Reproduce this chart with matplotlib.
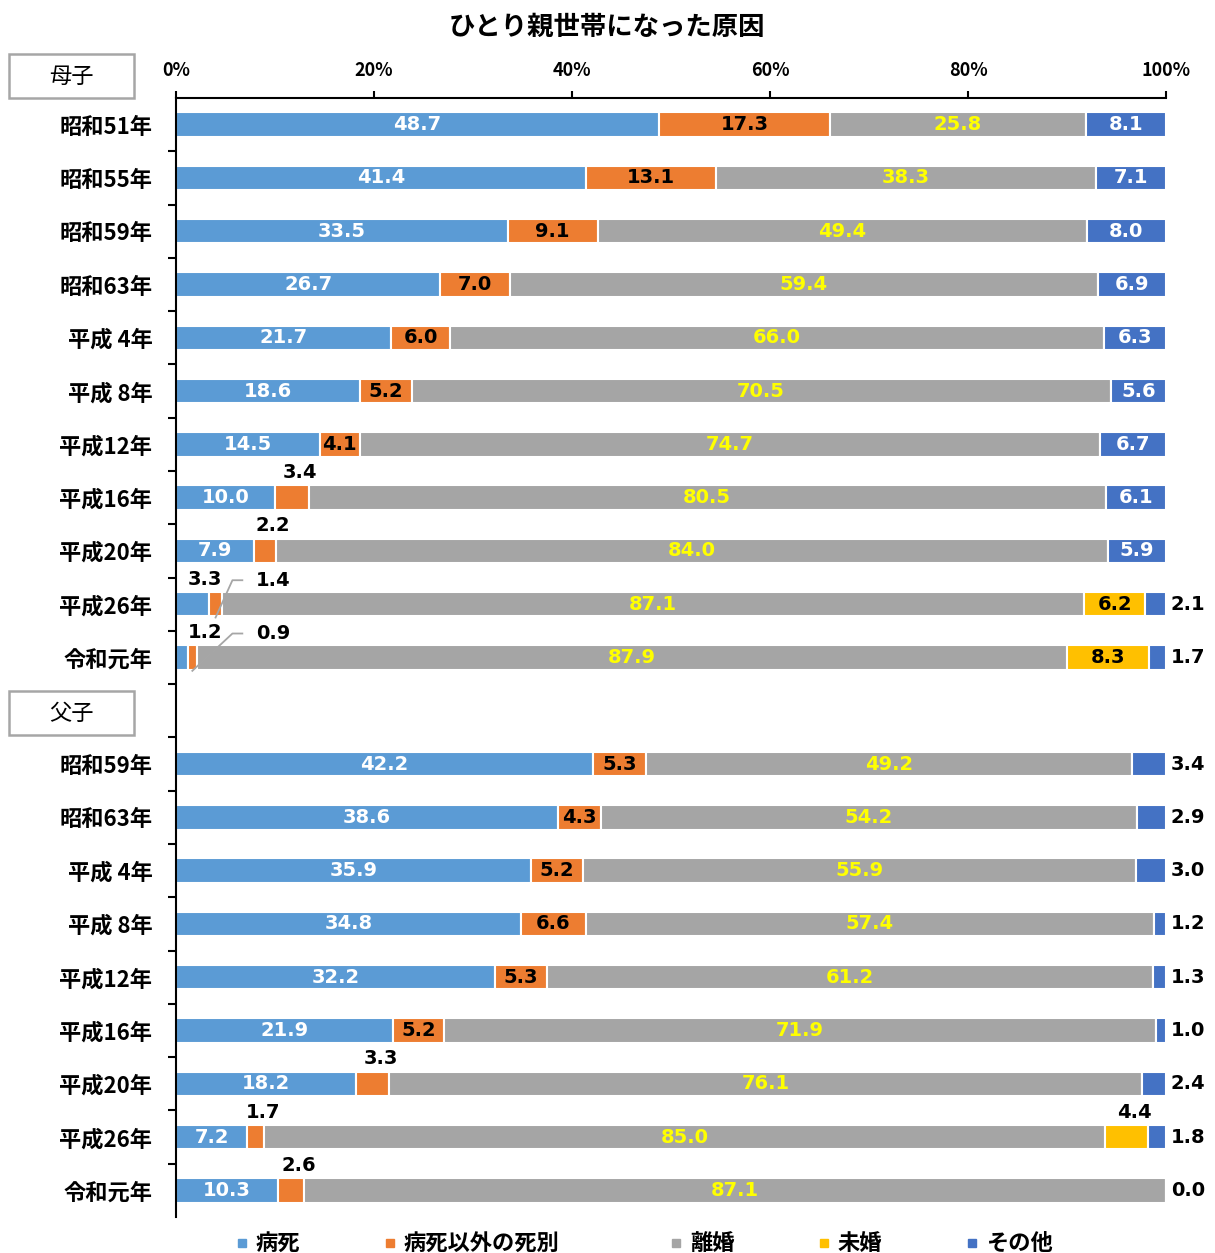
import numpy as np
import matplotlib
matplotlib.use("Agg")
import matplotlib.pyplot as plt
from matplotlib.patches import Rectangle

plt.rcParams['font.family'] = ['Noto Sans CJK JP', 'DejaVu Sans']

# --- data ---
categories = ['病死', '病死以外の死別', '離婚', '未婚', 'その他']
colors = ['#5B9BD5', '#ED7D31', '#A5A5A5', '#FFC000', '#4472C4']
label_colors = ['white', 'black', '#FFFF00', 'black', 'white']

boshi_years = ['昭和51年', '昭和55年', '昭和59年', '昭和63年', '平成 4年', '平成 8年',
               '平成12年', '平成16年', '平成20年', '平成26年', '令和元年']
boshi_byoshi = [48.7, 41.4, 33.5, 26.7, 21.7, 18.6, 14.5, 10.0, 7.9, 3.3, 1.2]
boshi_shibetsu = [17.3, 13.1, 9.1, 7.0, 6.0, 5.2, 4.1, 3.4, 2.2, 1.4, 0.9]
boshi_rikon = [25.8, 38.3, 49.4, 59.4, 66.0, 70.5, 74.7, 80.5, 84.0, 87.1, 87.9]
boshi_mikon = [0, 0, 0, 0, 0, 0, 0, 0, 0, 6.2, 8.3]
boshi_sonota = [8.1, 7.1, 8.0, 6.9, 6.3, 5.6, 6.7, 6.1, 5.9, 2.1, 1.7]

fushi_years = ['昭和59年', '昭和63年', '平成 4年', '平成 8年', '平成12年', '平成16年',
               '平成20年', '平成26年', '令和元年']
fushi_byoshi = [42.2, 38.6, 35.9, 34.8, 32.2, 21.9, 18.2, 7.2, 10.3]
fushi_shibetsu = [5.3, 4.3, 5.2, 6.6, 5.3, 5.2, 3.3, 1.7, 2.6]
fushi_rikon = [49.2, 54.2, 55.9, 57.4, 61.2, 71.9, 76.1, 85.0, 87.1]
fushi_mikon = [0, 0, 0, 0, 0, 0, 0, 4.4, 0]
fushi_sonota = [3.4, 2.9, 3.0, 1.2, 1.3, 1.0, 2.4, 1.8, 0.0]

# --- rows (one empty row between the two groups) ---
n_b = len(boshi_years)
rows = list(range(n_b)) + list(range(n_b + 1, n_b + 1 + len(fushi_years)))
labels = boshi_years + fushi_years
vals = np.array([
    boshi_byoshi + fushi_byoshi,
    boshi_shibetsu + fushi_shibetsu,
    boshi_rikon + fushi_rikon,
    boshi_mikon + fushi_mikon,
    boshi_sonota + fushi_sonota,
], dtype=float)
shares = vals / vals.sum(axis=0) * 100  # 100% stacked

num_font = dict(fontsize=14, fontweight='bold', family=['DejaVu Sans'])

fig = plt.figure(figsize=(12.15, 12.53), dpi=100)
ax = fig.add_axes([176 / 1215, 1 - 1217 / 1253, 990 / 1215, (1217 - 98) / 1253])

lefts = np.zeros(len(rows))
for k, cat in enumerate(categories):
    ax.barh(rows, shares[k], left=lefts, height=0.46, color=colors[k],
            edgecolor='white', linewidth=1.5, zorder=2)

    for i, r in enumerate(rows):
        w = vals[k, i]
        cx = lefts[i] + shares[k, i] / 2
        if w == 0 and k != 4:
            continue
        place = 'in' if w >= 4 else ('right' if k == 4 else 'above')
        if (r, k) in [(9, 1), (10, 1)]:
            place = 'leader'
        if (r, k) == (19, 3):
            place = 'above'
        txt = f'{w:.1f}'
        if place == 'in':
            ax.text(cx, r, txt, ha='center', va='center', color=label_colors[k],
                    zorder=3, **num_font)
        elif place == 'right':
            ax.text(100.5, r, txt, ha='left', va='center', color='black',
                    clip_on=False, **num_font)
        elif place == 'above':
            tx = max(cx + 0.8, 2.9)
            ax.text(tx, r - 0.47, txt, ha='center', va='center', color='black',
                    **num_font)
        else:
            # leader line from the thin segment to its label
            ax.plot([cx, 5.7, 6.7], [r + 0.25, r - 0.45, r - 0.45], color='#A6A6A6',
                    lw=1.3, zorder=4)
            ax.text(9.8, r - 0.45, txt, ha='center', va='center', color='black',
                    **num_font)
    lefts += shares[k]

# --- axes styling ---
ax.set_xlim(0, 100)
ax.set_ylim(len(labels) + 0.5, -0.5)
ax.xaxis.tick_top()
ax.set_xticks(np.arange(0, 101, 20))
ax.set_xticklabels([f'{t}%' for t in range(0, 101, 20)], fontsize=13, fontweight='bold')
ax.tick_params(axis='x', direction='out', length=5, width=1.5, pad=8)

ax.set_yticks(np.arange(0.5, len(labels) + 0.5, 1))
ax.set_yticklabels([])
ax.tick_params(axis='y', which='major', direction='out', length=6, width=1.5)
ax.set_yticks(rows, minor=True)
ax.set_yticklabels(labels, minor=True, fontsize=16, fontweight='bold')
ax.tick_params(axis='y', which='minor', length=0, pad=17)

for s in ['right', 'bottom']:
    ax.spines[s].set_visible(False)
for s in ['top', 'left']:
    ax.spines[s].set_linewidth(1.5)

# title
fig.text(607 / 1215, 1 - 27 / 1253, 'ひとり親世帯になった原因', ha='center', va='center',
         fontsize=19, fontweight='bold')

# group boxes
for name, y_top in [('母子', 54), ('父子', 691)]:
    fig.add_artist(Rectangle((9 / 1215, 1 - (y_top + 44) / 1253), 125 / 1215, 44 / 1253,
                             transform=fig.transFigure, fill=False, ec='#A6A6A6', lw=1.8))
    fig.text(71.5 / 1215, 1 - (y_top + 22) / 1253, name, ha='center', va='center',
             fontsize=16)

# legend (placed item by item, Excel-style slots)
legend_x = [242, 390, 676, 824, 972]
legend_y = 1 - 1243 / 1253
for c, name, lx in zip(colors, categories, legend_x):
    fig.add_artist(Rectangle(((lx - 4) / 1215, legend_y - 4 / 1253), 8 / 1215, 8 / 1253,
                             transform=fig.transFigure, color=c))
    fig.text((lx + 14) / 1215, legend_y, name, ha='left', va='center',
             fontsize=16, fontweight='bold')

fig.savefig('out.png', dpi=100)
